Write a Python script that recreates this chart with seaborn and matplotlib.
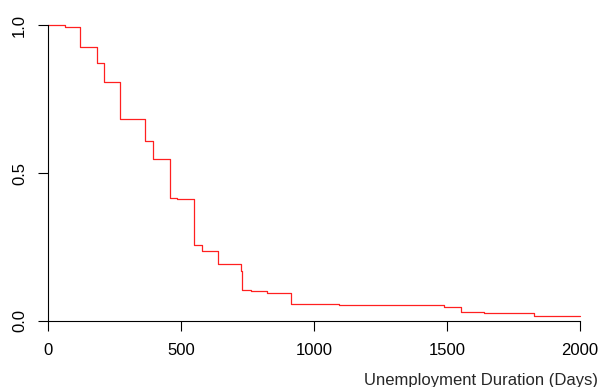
import numpy as np
import pandas as pd
import matplotlib
matplotlib.use("Agg")
import matplotlib.pyplot as plt
import seaborn as sns

# Kaplan-Meier style survival steps
days = [0, 64, 120, 183, 212, 272, 363, 396, 459, 486, 548, 578, 638, 724, 730,
        762, 822, 914, 1095, 1490, 1553, 1639, 1828, 2000]
surv = [1.0, 0.993, 0.926, 0.873, 0.807, 0.681, 0.607, 0.547, 0.417, 0.413, 0.256,
        0.236, 0.191, 0.170, 0.105, 0.101, 0.094, 0.059, 0.053, 0.047, 0.032,
        0.026, 0.018, 0.018]
x_ticks = [0, 500, 1000, 1500, 2000]
y_ticks = [0.0, 0.5, 1.0]
y_tick_labels = ["0.0", "0.5", "1.0"]

df = pd.DataFrame({"days": days, "surv": surv})

sns.set_style("white")
plt.rcParams["font.family"] = ["Liberation Sans", "DejaVu Sans"]

fig = plt.figure(figsize=(6, 3.87), dpi=100)
ax = fig.add_axes([48 / 600, 1 - 321 / 387, 532 / 600, 296 / 387])

sns.lineplot(data=df, x="days", y="surv", drawstyle="steps-post", color="#ff2020",
             linewidth=0.9, ax=ax, clip_on=False)

ax.set_xlim(0, 2000)
ax.set_ylim(0, 1)
ax.set_xticks(x_ticks)
ax.set_yticks(y_ticks)
ax.set_yticklabels(y_tick_labels, rotation=90, va="center")
ax.set_xlabel("")
ax.set_ylabel("")
for s in ["top", "right"]:
    ax.spines[s].set_visible(False)
for s in ["left", "bottom"]:
    ax.spines[s].set_color("black")
    ax.spines[s].set_linewidth(0.8)
ax.tick_params(axis="both", direction="out", length=7, width=0.8, colors="black",
               labelsize=12, left=True, bottom=True)
ax.tick_params(axis="x", pad=9)
ax.tick_params(axis="y", pad=8)

# axis title sits low and to the right, partly cut by the figure edge
fig.text(598 / 600, 1 - 373 / 387, "Unemployment Duration (Days)", ha="right",
         va="top", fontsize=12)

fig.savefig("out.png", dpi=100)
plt.close(fig)
